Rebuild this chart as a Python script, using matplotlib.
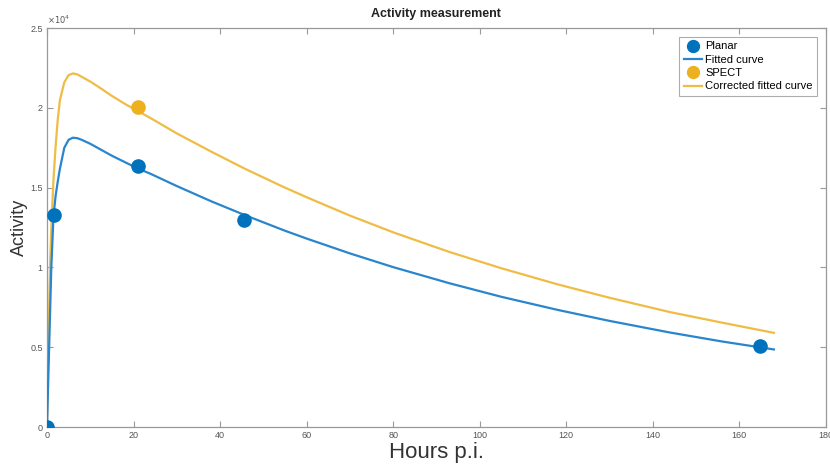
import numpy as np
import matplotlib
matplotlib.use("Agg")
import matplotlib.pyplot as plt

plt.rcParams['font.family'] = ['Liberation Sans', 'DejaVu Sans']

# measured points
planar_hours = [0, 1.7, 21, 45.5, 164.7]
planar_act = [0, 13300, 16350, 12970, 5050]
spect_hours = [21]
spect_act = [20070]

# fitted curves (activity in units of 1e4)
curve_hours = [0, 0.3, 0.7, 1, 1.5, 2, 2.5, 3, 4, 5, 6, 7, 8, 10, 12, 15, 18, 21, 24,
               30, 38, 46, 55, 60, 70, 80, 93, 105, 118, 130, 144, 156, 168]
fit_act = [0, 0.30, 0.70, 1.00, 1.32, 1.45, 1.54, 1.62, 1.75, 1.80, 1.813, 1.81, 1.80,
           1.775, 1.745, 1.70, 1.66, 1.62, 1.586, 1.51, 1.414, 1.325, 1.23, 1.181,
           1.088, 1.002, 0.901, 0.816, 0.734, 0.665, 0.592, 0.536, 0.486]
corr_act = [0, 0.48, 1.00, 1.25, 1.55, 1.76, 1.93, 2.05, 2.16, 2.205, 2.216, 2.21, 2.195,
            2.165, 2.13, 2.075, 2.025, 1.98, 1.935, 1.84, 1.725, 1.615, 1.50, 1.44,
            1.325, 1.22, 1.097, 0.995, 0.894, 0.81, 0.72, 0.654, 0.59]

xticks = [0, 20, 40, 60, 80, 100, 120, 140, 160, 180]
yticks = [0, 5000, 10000, 15000, 20000, 25000]
ytick_labels = ['0', '0.5', '1', '1.5', '2', '2.5']

blue = '#0072BD'
yellow = '#EDB120'

fig = plt.figure(figsize=(8.3, 4.68), dpi=100)
ax = fig.add_axes([0.0566, 0.0876, 0.9384, 0.8524])

ax.plot(planar_hours, planar_act, 'o', color=blue, markersize=9.5, label='Planar', zorder=4)
ax.plot(curve_hours, np.array(fit_act) * 1e4, '-', color='#2a86cc', lw=1.6, label='Fitted curve', zorder=3)
ax.plot(spect_hours, spect_act, 'o', color=yellow, markersize=9.5, label='SPECT', zorder=4)
ax.plot(curve_hours, np.array(corr_act) * 1e4, '-', color='#EFBC45', lw=1.6,
        label='Corrected fitted curve', zorder=2)

ax.set_xlim(0, 180)
ax.set_ylim(0, 25000)
ax.set_xticks(xticks)
ax.set_yticks(yticks)
ax.set_yticklabels(ytick_labels)
ax.tick_params(direction='in', length=4, width=0.8, colors='#999999', labelcolor='#555555',
               labelsize=6.5, top=True, right=True, pad=3)
for s in ax.spines.values():
    s.set_color('#999999')
    s.set_linewidth(0.9)

ax.text(0.0, 1.006, r'$\times10^{4}$', transform=ax.transAxes, fontsize=6, color='#555555',
        ha='left', va='bottom')

ax.set_title('Activity measurement', fontsize=9, fontweight='bold', color='#222222', pad=8)
ax.set_xlabel('Hours p.i.', fontsize=16, color='#333333')
ax.xaxis.set_label_coords(0.5, -0.038)
ax.set_ylabel('Activity', fontsize=13, color='#333333')
ax.yaxis.set_label_coords(-0.024, 0.5)

leg = ax.legend(loc='upper right', fontsize=8, frameon=True, fancybox=False,
                handlelength=1.6, handletextpad=0.3, borderpad=0.4, labelspacing=0.3,
                borderaxespad=0.8, markerscale=0.9)
leg.get_frame().set_edgecolor('#999999')
leg.get_frame().set_linewidth(0.8)

fig.savefig('out.png', dpi=100)
